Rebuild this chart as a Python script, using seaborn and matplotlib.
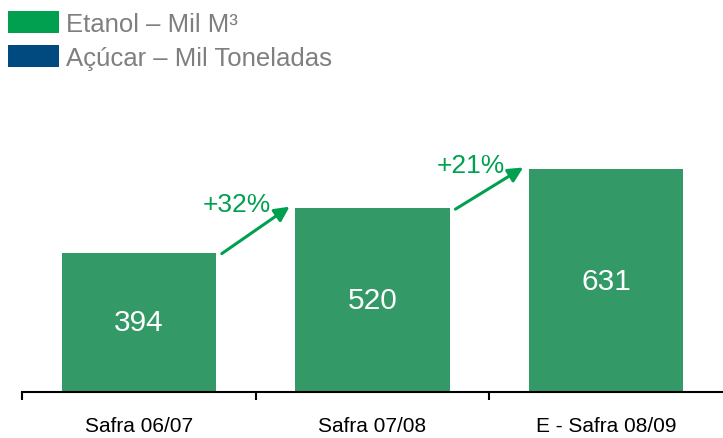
import numpy as np
import matplotlib
matplotlib.use('Agg')
import matplotlib.pyplot as plt
import seaborn as sns
from matplotlib.patches import Patch

# data
safras = ['Safra 06/07', 'Safra 07/08', 'E - Safra 08/09']
etanol = [394, 520, 631]
growth_labels = ['+32%', '+21%']
legend_labels = ['Etanol \u2013 Mil M\u00b3', 'A\u00e7\u00facar \u2013 Mil Toneladas']

bar_color = '#339966'
arrow_color = '#00A050'
legend_colors = ['#00A050', '#004A80']

sns.set_style('white')
plt.rcParams['font.family'] = ['Liberation Sans', 'DejaVu Sans']

fig = plt.figure(figsize=(7.23, 4.39), dpi=100)
# baseline at y=393 px, top of axes at y=100 px
ax = fig.add_axes([22 / 723, 1 - 393 / 439, 1 - 22 / 723, (393 - 100) / 439])

sns.barplot(x=safras, y=etanol, ax=ax, color=bar_color, width=0.66,
            saturation=1, edgecolor='none')

ax.set_xlim(-0.5, 2.5)
ax.set_ylim(0, 293 / 0.353)

# value labels inside bars
for i, v in enumerate(etanol):
    ax.text(i, v / 2, str(v), ha='center', va='center', color='white', fontsize=21.5)

# growth arrows
for i, lbl in enumerate(growth_labels):
    ax.annotate('', xy=(i + 0.645, etanol[i + 1] + 5), xytext=(i + 0.355, etanol[i] - 2),
                arrowprops=dict(arrowstyle='-|>', color=arrow_color, lw=2.2,
                                mutation_scale=22, shrinkA=0, shrinkB=0))
    ax.text(i + 0.42, etanol[i + 1] + 12, lbl, ha='center', va='center',
            color=arrow_color, fontsize=19)

# axis styling
for s in ['top', 'right', 'left']:
    ax.spines[s].set_visible(False)
ax.spines['bottom'].set_color('black')
ax.spines['bottom'].set_linewidth(1.5)
ax.set_yticks([])
ax.set_xticks([-0.5, 0.5, 1.5], minor=True)
ax.tick_params(axis='x', which='minor', bottom=True, length=6, width=1.5,
               color='black', direction='out')
ax.tick_params(axis='x', which='major', length=0, pad=17, labelsize=15, labelcolor='black')
ax.set_xlabel('')
ax.set_ylabel('')

# legend
handles = [Patch(facecolor=c, edgecolor='none', label=l) for c, l in zip(legend_colors, legend_labels)]
fig.legend(handles=handles, loc='upper left', bbox_to_anchor=(8 / 723, 1 - 12 / 439),
           frameon=False, fontsize=18.5, labelcolor='#7F7F7F', handlelength=2.0,
           handleheight=0.95, handletextpad=0.25, labelspacing=0.35, borderpad=0,
           borderaxespad=0)

fig.savefig('out.png', dpi=100)
